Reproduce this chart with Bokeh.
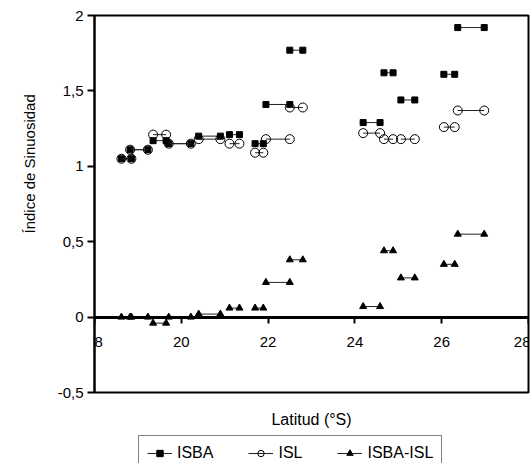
from bokeh.plotting import figure
from bokeh.layouts import column
from bokeh.models import (ColumnDataSource, FixedTicker, Legend, LegendItem,
                          Range1d, Title, LinearAxis)
from bokeh.embed import file_html
from bokeh.resources import INLINE

# Segment start / end latitudes (°S) and sinuosity index values
lat_start = [18.62, 18.82, 19.35, 19.71, 20.40, 21.11, 21.70, 21.95, 22.50,
             24.19, 24.67, 25.06, 26.05, 26.37]
lat_end = [18.85, 19.23, 19.65, 20.22, 20.90, 21.34, 21.89, 22.50, 22.80,
           24.58, 24.88, 25.38, 26.30, 26.98]
isba = [1.05, 1.11, 1.17, 1.15, 1.20, 1.21, 1.15, 1.41, 1.77,
        1.29, 1.62, 1.44, 1.61, 1.92]
isl = [1.05, 1.11, 1.21, 1.15, 1.18, 1.15, 1.09, 1.18, 1.39,
       1.22, 1.18, 1.18, 1.26, 1.37]
isba_isl = [0.00, 0.00, -0.04, 0.00, 0.02, 0.06, 0.06, 0.23, 0.38,
            0.07, 0.44, 0.26, 0.35, 0.55]

x_ticks = [18, 20, 22, 24, 26, 28]
y_ticks = [-0.5, 0, 0.5, 1, 1.5, 2]
y_tick_labels = ["-0,5", "0", "0,5", "1", "1,5", "2"]
series_names = ["ISBA", "ISL", "ISBA-ISL"]

FONT = "Liberation Sans"
LINE = "#222222"

src = ColumnDataSource(dict(lat_start=lat_start, lat_end=lat_end,
                            isba=isba, isl=isl, isba_isl=isba_isl))

p = figure(width=530, height=435, x_range=Range1d(18, 28),
           y_range=Range1d(-0.5, 2), output_backend="svg",
           toolbar_location=None, min_border_left=94, min_border_right=2,
           min_border_top=15, min_border_bottom=43)
p.background_fill_color = "white"
p.border_fill_color = "white"
p.outline_line_color = "black"
p.outline_line_width = 2
p.xgrid.visible = False
p.ygrid.visible = False

# y axis
ya = p.yaxis[0]
ya.ticker = FixedTicker(ticks=y_ticks)
ya.major_label_overrides = {t: l for t, l in zip(y_ticks, y_tick_labels)}
ya.axis_line_width = 2
ya.axis_line_color = "black"
ya.major_tick_in = 0
ya.major_tick_out = 7
ya.major_tick_line_width = 2
ya.minor_tick_line_color = None
ya.major_label_standoff = 4
ya.major_label_text_font = FONT
ya.major_label_text_font_size = "15px"
ya.major_label_text_color = "black"

# x axis drawn at y = 0
xa = p.xaxis[0]
xa.ticker = FixedTicker(ticks=x_ticks)
xa.fixed_location = 0
xa.axis_line_width = 3
xa.axis_line_color = "black"
xa.major_tick_in = 0
xa.major_tick_out = 6
xa.major_tick_line_width = 2
xa.minor_tick_line_color = None
xa.major_label_standoff = 14
xa.major_label_text_font = FONT
xa.major_label_text_font_size = "15px"
xa.major_label_text_color = "black"

# x axis title, carried by a tick-less axis under the frame
lab_ax = LinearAxis(ticker=FixedTicker(ticks=[]), axis_label="Latitud (°S)",
                    axis_line_color=None, major_tick_out=0, major_tick_in=0,
                    minor_tick_out=0, minor_tick_in=0, major_label_standoff=0,
                    axis_label_standoff=18, axis_label_text_font=FONT,
                    axis_label_text_font_size="16px",
                    axis_label_text_font_style="normal",
                    axis_label_text_color="black")
p.add_layout(lab_ax, "below")

# y axis title
p.add_layout(Title(text="Índice de Sinuosidad", align="left", offset=159,
                   vertical_align="top", standoff=30, text_font=FONT,
                   text_font_size="15px", text_font_style="normal",
                   text_color="black"), "left")


def draw_series(fig, source, ycol, marker, size, fill):
    seg = fig.segment(x0="lat_start", x1="lat_end", y0=ycol, y1=ycol,
                      source=source, line_color=LINE, line_width=1)
    m = fig.scatter(x="lat_start", y=ycol, source=source, marker=marker,
                    size=size, fill_color=fill, line_color="black",
                    line_width=1)
    fig.scatter(x="lat_end", y=ycol, source=source, marker=marker, size=size,
                fill_color=fill, line_color="black", line_width=1)
    return seg, m


draw_series(p, src, "isba", "square", 6, "black")
draw_series(p, src, "isl", "circle", 9, None)
draw_series(p, src, "isba_isl", "triangle", 7, "black")

# legend strip under the chart (its series lie outside its own view)
leg = figure(width=530, height=28, x_range=Range1d(0, 1), y_range=Range1d(0, 1),
             output_backend="svg", toolbar_location=None,
             x_axis_location=None, y_axis_location=None,
             min_border_left=0, min_border_right=0, min_border_top=0,
             min_border_bottom=0)
leg.outline_line_color = None
leg.xgrid.visible = False
leg.ygrid.visible = False
leg.background_fill_color = "white"
leg.border_fill_color = "white"

r1 = draw_series(leg, src, "isba", "square", 6, "black")
r2 = draw_series(leg, src, "isl", "circle", 9, None)
r3 = draw_series(leg, src, "isba_isl", "triangle", 7, "black")

legend = Legend(items=[LegendItem(label=series_names[0], renderers=list(r1)),
                       LegendItem(label=series_names[1], renderers=list(r2)),
                       LegendItem(label=series_names[2], renderers=list(r3))],
                orientation="horizontal", location=(44, -8), margin=0,
                label_text_font=FONT, label_text_font_size="16px",
                label_text_color="black", glyph_width=25, glyph_height=16,
                label_height=16, label_standoff=5, spacing=35, padding=8,
                border_line_color="black", border_line_width=1,
                background_fill_color="white", background_fill_alpha=1)
leg.add_layout(legend, "center")

layout = column(p, leg, spacing=0)
open("out.html", "w").write(file_html(layout, INLINE))
